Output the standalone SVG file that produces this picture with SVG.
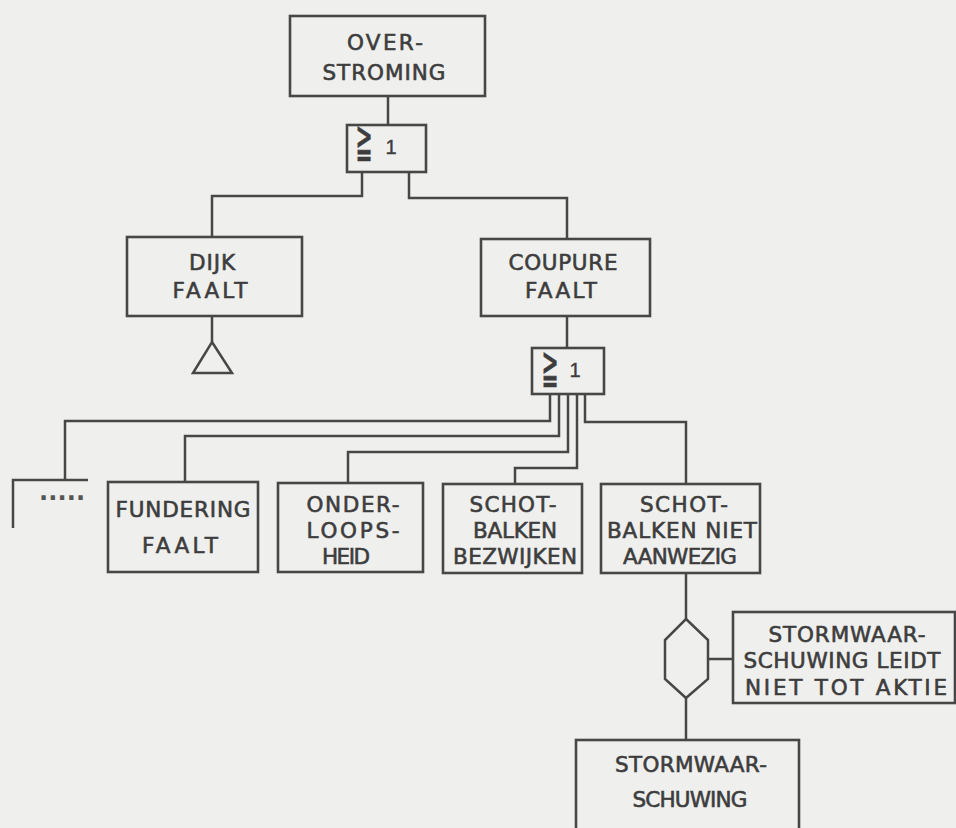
<svg xmlns="http://www.w3.org/2000/svg" width="956" height="828" viewBox="0 0 956 828">
<style>
.bg{fill:#efefed}
.ln{fill:none;stroke:#474747;stroke-width:2.5;stroke-linejoin:miter}
.box{fill:none;stroke:#474747;stroke-width:2.6}
.t{font-family:"DejaVu Sans","Liberation Sans",sans-serif;font-size:21.5px;fill:#3d3d3d;stroke:#3d3d3d;stroke-width:0.6;text-anchor:middle}
.sym{font-family:"DejaVu Sans","Liberation Sans",sans-serif;font-size:34px;fill:#3d3d3d;stroke:#3d3d3d;stroke-width:0.5;text-anchor:middle}
.one{font-family:"Liberation Sans",sans-serif;font-size:20px;fill:#3d3d3d;stroke:#3d3d3d;stroke-width:0.4;text-anchor:middle}
.dots{font-family:"DejaVu Sans",sans-serif;font-size:24px;font-weight:bold;fill:#555;text-anchor:middle}
</style>
<rect class="bg" x="0" y="0" width="956" height="828"/>

<g id="connectors">
  <path class="ln" d="M388 96 V125"/>
  <path class="ln" d="M362 172 V196 H212 V237"/>
  <path class="ln" d="M409 172 V198 H567 V239"/>
  <path class="ln" d="M212 316 V342"/>
  <path class="ln" d="M567 316 V348"/>
  <path class="ln" d="M550 394 V421 H65 V480"/>
  <path class="ln" d="M559 394 V436 H185 V482"/>
  <path class="ln" d="M568 394 V452 H348 V483"/>
  <path class="ln" d="M577 394 V468 H515 V484"/>
  <path class="ln" d="M585 394 V422 H686 V484"/>
  <path class="ln" d="M686 573 V619"/>
  <path class="ln" d="M708 659 H733"/>
  <path class="ln" d="M686 698 V740"/>
</g>

<g id="overstroming">
  <rect class="box" x="290" y="16" width="195" height="80"/>
  <text class="t" x="385" y="50" textLength="76" lengthAdjust="spacing">OVER-</text>
  <text class="t" x="384" y="80" textLength="123" lengthAdjust="spacing">STROMING</text>
</g>

<g id="gate1">
  <rect class="box" x="347" y="125" width="79" height="47"/>
  <text class="sym" transform="translate(364 157) scale(0.6 1.4)" x="0" y="0">≧</text>
  <text class="one" x="391" y="154">1</text>
</g>

<g id="dijk">
  <rect class="box" x="127" y="237" width="175" height="79"/>
  <text class="t" x="212" y="270" textLength="46" lengthAdjust="spacing">DIJK</text>
  <text class="t" x="210" y="298" textLength="75" lengthAdjust="spacing">FAALT</text>
</g>

<g id="dijk-transfer">
  <path class="ln" d="M212 342 L232 373 H193 Z"/>
</g>

<g id="coupure">
  <rect class="box" x="481" y="239" width="169" height="77"/>
  <text class="t" x="563" y="270" textLength="109" lengthAdjust="spacing">COUPURE</text>
  <text class="t" x="561" y="298" textLength="72" lengthAdjust="spacing">FAALT</text>
</g>

<g id="gate2">
  <rect class="box" x="532" y="348" width="72" height="46"/>
  <text class="sym" transform="translate(550 383) scale(0.6 1.4)" x="0" y="0">≧</text>
  <text class="one" x="575" y="377">1</text>
</g>

<g id="other">
  <path class="ln" d="M13 528 V480 H88"/>
  <text class="dots" x="62" y="500" textLength="46" lengthAdjust="spacing">.....</text>
</g>

<g id="fundering">
  <rect class="box" x="108" y="482" width="150" height="90"/>
  <text class="t" x="183" y="517" textLength="135" lengthAdjust="spacing">FUNDERING</text>
  <text class="t" x="180" y="553" textLength="76" lengthAdjust="spacing">FAALT</text>
</g>

<g id="onderloopsheid">
  <rect class="box" x="278" y="483" width="145" height="89"/>
  <text class="t" x="353" y="512" textLength="93" lengthAdjust="spacing">ONDER-</text>
  <text class="t" x="353" y="538" textLength="93" lengthAdjust="spacing">LOOPS-</text>
  <text class="t" x="346" y="564" textLength="48" lengthAdjust="spacing">HEID</text>
</g>

<g id="schotbalken-bezwijken">
  <rect class="box" x="443" y="484" width="139" height="89"/>
  <text class="t" x="513" y="512" textLength="87" lengthAdjust="spacing">SCHOT-</text>
  <text class="t" x="515" y="538" textLength="84" lengthAdjust="spacing">BALKEN</text>
  <text class="t" x="515" y="564" textLength="124" lengthAdjust="spacing">BEZWIJKEN</text>
</g>

<g id="schotbalken-niet-aanwezig">
  <rect class="box" x="601" y="484" width="159" height="89"/>
  <text class="t" x="684" y="512" textLength="88" lengthAdjust="spacing">SCHOT-</text>
  <text class="t" x="682" y="538" textLength="150" lengthAdjust="spacing">BALKEN NIET</text>
  <text class="t" x="680" y="564" textLength="114" lengthAdjust="spacing">AANWEZIG</text>
</g>

<g id="inhibit">
  <path class="ln" d="M686 619 L708 640 V679 L686 698 L665 679 V640 Z"/>
</g>

<g id="condition">
  <rect class="box" x="733" y="612" width="222" height="91"/>
  <text class="t" x="847" y="642" textLength="157" lengthAdjust="spacing">STORMWAAR-</text>
  <text class="t" x="842" y="668" textLength="197" lengthAdjust="spacing">SCHUWING LEIDT</text>
  <text class="t" x="846" y="695" textLength="202" lengthAdjust="spacing">NIET TOT AKTIE</text>
</g>

<g id="stormwaarschuwing">
  <rect class="box" x="576" y="740" width="223" height="100"/>
  <text class="t" x="691" y="772" textLength="152" lengthAdjust="spacing">STORMWAAR-</text>
  <text class="t" x="690" y="807" textLength="115" lengthAdjust="spacing">SCHUWING</text>
</g>
</svg>
